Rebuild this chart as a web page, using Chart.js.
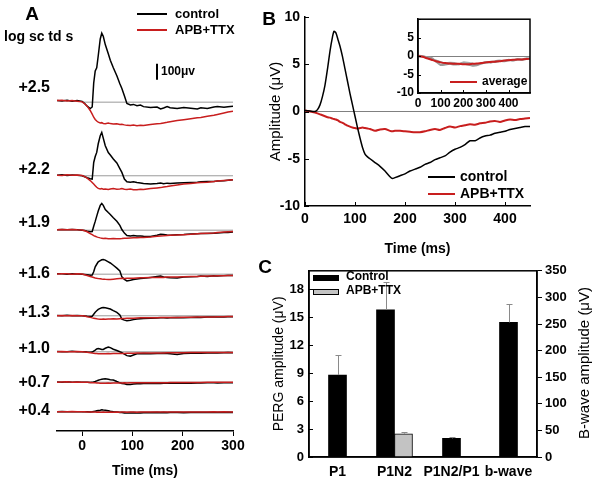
<!DOCTYPE html>
<html>
<head>
<meta charset="utf-8">
<script src="https://cdn.jsdelivr.net/npm/chart.js@4.4.1/dist/chart.umd.min.js"></script>
<style>
  body { margin: 0; background: #fff; }
  #wrap { position: relative; width: 600px; height: 486px; overflow: hidden; background: #fff; }
  canvas { position: absolute; }
</style>
</head>
<body>
<div id="wrap">
  <canvas id="chartA" width="250" height="486" style="left:0;top:0"></canvas>
  <canvas id="chartB" width="350" height="262" style="left:250px;top:0"></canvas>
  <canvas id="chartInset" width="145" height="112" style="left:390px;top:8px"></canvas>
  <canvas id="chartC" width="350" height="228" style="left:250px;top:258px"></canvas>
</div>
<script>
// ---------- Panel A: traces per flash strength (µV, relative to each baseline)
const intensityLabels = ["+2.5", "+2.2", "+1.9", "+1.6", "+1.3", "+1.0", "+0.7", "+0.4"];
const timeA = [-50,-40,-30,-20,-10,0,5,10,16,20,23,26,29,32,36,39,42,46,52,56,62,69,75,79,84,89,96,102,109,116,122,136,149,156,162,169,175,189,202,216,229,236,249,262,269,282,290,300];
const timeTicksA = [0, 100, 200, 300];

const control25 = [10,8,12,6,10, 4,-8,-25,-40,-30, 120,195,215,290,395, 431,412,360,302,262, 215,165,115,85,40, -8,-18,-14,-22,-18, -28,-34,-30,-42,-36, -27,-35,-40,-33,-38, -42,-35,-40,-30,-27, -32,-28,-26];
const apb25 = [10,12,8,10,6, 2,-10,-25,-52,-75, -94,-108,-118,-125,-130, -128,-133,-135,-130,-134, -136,-135,-140,-138,-142, -145,-146,-143,-147,-145, -146,-140,-135,-133,-130, -126,-122,-115,-110,-104, -98,-96,-88,-82,-77, -68,-62,-56];
const control22 = [4,6,2,5,3, 0,-6,-12,-18,-21, 83,120,146,200,250, 271,235,188,145,130, 105,80,45,21,-20, -37,-40,-38,-42,-45, -48,-52,-48,-45,-50, -46,-48,-45,-44,-42, -40,-38,-36,-35,-33, -31,-28,-25];
const apb22 = [4,2,6,3,5, 2,-5,-15,-30,-42, -52,-62,-72,-79,-82, -80,-84,-83,-86,-83, -80,-84,-82,-80,-84, -86,-83,-87,-88,-85, -86,-80,-76,-74,-70, -67,-64,-58,-52,-48, -44,-42,-40,-36,-33, -30,-28,-25];
const control19 = [3,5,2,4,3, 0,-2,-6,-10,-8, 25,55,88,120,155, 167,155,129,110,98, 78,56,30,4,-18, -33,-36,-34,-37,-36, -38,-40,-32,-25,-27, -30,-31,-28,-27,-24, -22,-21,-20,-19,-18, -15,-14,-12];
const apb19 = [2,4,3,5,2, 1,-4,-10,-21,-28, -34,-38,-42,-45,-48, -50,-52,-50,-53,-54, -52,-54,-53,-52,-50, -51,-49,-48,-47,-46, -45,-42,-38,-36,-35, -33,-32,-30,-28,-26, -23,-21,-19,-17,-15, -12,-10,-8];
const control16 = [2,3,0,2,1, 0,-2,-4,-6,-5, 15,46,62,77,85, 90,92,88,77,70, 56,38,20,-17,-32, -42,-38,-33,-30,-27, -25,-20,-15,-12,-18, -20,-22,-24,-18,-16, -14,-12,-14,-10,-11, -9,-8,-8];
const apb16 = [1,3,2,0,2, 1,-3,-8,-14,-18, -21,-24,-26,-27,-28, -30,-31,-32,-33,-33, -31,-29,-27,-26,-27, -25,-26,-25,-24,-23, -22,-21,-20,-19,-20, -18,-18,-17,-16,-15, -14,-13,-12,-11,-10, -9,-8,-8];
const control13 = [2,0,3,1,2, 0,-1,-3,-4,-3, 10,22,31,40,46, 50,52,50,46,42, 32,21,5,-21,-27, -31,-28,-24,-20,-18, -17,-15,-14,-12,-13, -14,-12,-11,-12,-10, -9,-10,-8,-8,-7, -7,-6,-6];
const apb13 = [1,2,0,2,1, 0,-2,-6,-10,-13, -15,-17,-19,-20,-21, -21,-20,-21,-20,-20, -19,-20,-18,-17,-17, -16,-15,-15,-14,-13, -13,-12,-12,-11,-11, -10,-10,-10,-9,-9, -8,-8,-7,-7,-6, -6,-5,-5];
const control10 = [2,0,1,3,0, 1,0,-2,-3,-2, 4,10,18,21,18, 15,15,22,29,26, 16,8,0,-5,-15, -24,-27,-20,-13,-12, -11,-12,-10,-11,-9, -11,-12,-17,-10,-9, -8,-9,-7,-6,-7, -6,-5,-6];
const apb10 = [1,2,0,1,2, 0,-1,-3,-6,-8, -9,-10,-11,-12,-12, -12,-12,-12,-11,-12, -11,-11,-10,-10,-10, -9,-9,-9,-8,-8, -8,-8,-7,-7,-7, -6,-6,-6,-6,-5, -5,-5,-5,-4,-4, -4,-4,-4];
const control07 = [1,0,2,0,1, 0,0,-1,-2,-1, 2,4,8,12,16, 18,20,21,18,16, 14,4,-4,-8,-10, -14,-15,-12,-10,-9, -8,-8,-7,-8,-6, -7,-6,-6,-5,-6, -5,-5,-4,-4,-5, -4,-3,-3];
const apb07 = [0,1,2,0,1, 0,0,-1,-2,-3, -4,-4,-5,-5,-6, -6,-6,-6,-5,-6, -5,-5,-5,-5,-4, -5,-4,-4,-4,-4, -3,-3,-3,-3,-3, -3,-2,-2,-2,-2, -2,-2,-1,-1,-1, -1,-1,-1];
const control04 = [0,2,0,1,0, 1,0,0,-1,0, 2,4,6,8,10, 12,11,10,6,3, 0,-2,-4,-5,-7, -8,-8,-7,-6,-7, -6,-6,-5,-6,-5, -6,-5,-5,-6,-5, -4,-5,-4,-5,-4, -4,-3,-4];
const apb04 = [1,0,1,2,0, 1,0,-1,-1,-2, -2,-2,-3,-2,-3, -3,-2,-3,-3,-2, -3,-2,-3,-2,-2, -3,-2,-2,-3,-2, -2,-2,-1,-2,-1, -2,-1,-1,-2,-1, -1,-1,-1,0,-1, 0,-1,-1];

const controlTraces = [control25, control22, control19, control16, control13, control10, control07, control04];
const apbTraces = [apb25, apb22, apb19, apb16, apb13, apb10, apb07, apb04];

// ---------- Panel B: averaged PERG (µV)
const timeB = [0,10,20,25,30,35,40,45,50,55,58,62,66,70,75,80,85,90,95,100,105,110,115,120,125,130,140,150,160,170,175,180,190,200,210,220,230,240,250,260,270,280,290,300,310,320,330,340,350,360,370,380,390,400,410,420,430,440,450];
const controlB = [0.1,0.05,0,0.2,0.7,1.6,2.8,4.5,6.4,7.9,8.5,8.3,7.6,6.9,5.8,4.5,3.2,1.9,0.7,-0.5,-1.7,-2.8,-3.8,-4.5,-4.8,-5.0,-5.4,-5.8,-6.3,-6.9,-7.1,-7.0,-6.8,-6.6,-6.3,-6.1,-5.9,-5.6,-5.4,-5.1,-4.9,-4.7,-4.3,-4.0,-3.8,-3.5,-3.1,-3.1,-2.8,-2.6,-2.5,-2.3,-2.2,-2.1,-1.9,-1.8,-1.7,-1.6,-1.6];
const apbB = [0.1,0,-0.1,-0.2,-0.3,-0.4,-0.5,-0.6,-0.65,-0.75,-0.8,-0.85,-0.95,-1.1,-1.2,-1.35,-1.5,-1.6,-1.7,-1.75,-1.8,-1.75,-1.7,-1.75,-1.8,-1.85,-2.05,-1.9,-1.85,-2.05,-2.1,-2.05,-2.05,-2.1,-2.15,-2.2,-2.2,-2.1,-1.95,-1.85,-1.95,-1.75,-1.6,-1.7,-1.55,-1.45,-1.35,-1.4,-1.25,-1.2,-1.05,-1.0,-1.1,-0.95,-0.85,-0.9,-0.8,-0.75,-0.7];

// inset: individual APB+TTX recordings and their average
const timeInset = [0,20,40,60,80,100,120,140,160,180,200,220,240,260,280,300,320,340,360,380,400,420,440,460,480,495];
const timeTicksInset = [0, 100, 200, 300, 400];
const averageInset = [0,-0.2,-0.6,-1.0,-1.4,-1.7,-1.9,-2.0,-2.1,-2.1,-2.2,-2.2,-2.1,-2.0,-1.9,-1.7,-1.6,-1.5,-1.4,-1.2,-1.1,-1.0,-0.9,-0.9,-0.8,-0.7];
const recording1 = [0,-0.1,-0.3,-0.5,-1.5,-2.4,-2.3,-2.1,-2.3,-2.2,-2.0,-2.3,-2.6,-2.5,-1.9,-1.8,-1.5,-1.6,-1.3,-1.4,-1.1,-1.2,-0.9,-1.0,-0.7,-0.8];
const recording2 = [0.1,0,-0.4,-0.9,-1.2,-1.6,-2.0,-1.8,-1.9,-2.2,-1.7,-1.8,-2.0,-2.4,-2.1,-1.6,-1.8,-1.4,-1.2,-1.3,-1.0,-1.1,-0.8,-0.9,-0.6,-0.6];

// ---------- Panel C: amplitudes with SEM
const categoriesC = ["P1", "P1N2", "P1N2/P1", "b-wave"];
const controlC = [8.8, 15.8, 2.0, null];
const controlErrC = [2.2, 3.0, 0.2, null];
const apbC = [null, 2.5, null, null];
const apbErrC = [null, 0.2, null, null];
const bwaveC = [null, null, null, 253];
const bwaveErrC = [null, null, null, 35];

// ---------- layout / style
const RED = "#c81e1e";
const FONT = 'Arial, "Liberation Sans", sans-serif';
const traceOffsets = [2055, 1595, 1255, 980, 720, 495, 305, 120]; // stacking of traces in panel A
const labelLift = [15, 6, 8, 1, 3, 3, 0, 1];
Chart.defaults.color = "#000";
Chart.defaults.font.family = FONT;

const bold = (size) => ({ family: FONT, size: size, weight: "bold" });
const plain = (size) => ({ family: FONT, size: size, weight: "normal" });

function makeNotes(items) {
  return {
    id: "notes",
    afterDraw(chart) {
      const ctx = chart.ctx;
      items.forEach(it => {
        ctx.save();
        if (it.line) {
          ctx.strokeStyle = it.color || "#000";
          ctx.lineWidth = it.width || 2;
          ctx.beginPath();
          ctx.moveTo(it.line[0], it.line[1]);
          ctx.lineTo(it.line[2], it.line[3]);
          ctx.stroke();
        }
        if (it.box) {
          ctx.fillStyle = it.fill;
          ctx.fillRect(it.box[0], it.box[1], it.box[2], it.box[3]);
          if (it.stroke) {
            ctx.strokeStyle = it.stroke;
            ctx.lineWidth = 1;
            ctx.strokeRect(it.box[0] + 0.5, it.box[1] + 0.5, it.box[2] - 1, it.box[3] - 1);
          }
        }
        if (it.text) {
          ctx.font = it.font;
          ctx.fillStyle = "#000";
          ctx.textAlign = it.align || "left";
          ctx.textBaseline = "middle";
          ctx.translate(it.x, it.y);
          if (it.rotate) ctx.rotate(it.rotate);
          ctx.fillText(it.text, 0, 0);
        }
        ctx.restore();
      });
    }
  };
}

// short tick marks pointing into the plot
function inwardTicks(ids, len) {
  return {
    id: "inwardTicks",
    afterDraw(chart) {
      const ctx = chart.ctx;
      ctx.save();
      ctx.strokeStyle = "#000";
      ctx.lineWidth = 1;
      ids.forEach(id => {
        const s = chart.scales[id];
        s.ticks.forEach((t, i) => {
          const p = Math.round(s.getPixelForTick(i)) + 0.5;
          ctx.beginPath();
          if (s.position === "left") { ctx.moveTo(s.right, p); ctx.lineTo(s.right + len, p); }
          else if (s.position === "right") { ctx.moveTo(s.left, p); ctx.lineTo(s.left - len, p); }
          else { ctx.moveTo(p, s.top); ctx.lineTo(p, s.top - len); }
          ctx.stroke();
        });
      });
      ctx.restore();
    }
  };
}

const frame = {
  id: "frame",
  afterDraw(chart) {
    const a = chart.chartArea, ctx = chart.ctx;
    ctx.save();
    ctx.strokeStyle = "#000";
    ctx.lineWidth = 1.5;
    ctx.strokeRect(a.left, a.top, a.right - a.left, a.bottom - a.top);
    ctx.restore();
  }
};

// ---------- Panel A chart
const datasetsA = [];
intensityLabels.forEach((lab, i) => {
  const off = traceOffsets[i];
  datasetsA.push({ label: "APB+TTX " + lab, data: timeA.map((t, k) => ({ x: t, y: apbTraces[i][k] + off })), borderColor: RED, borderWidth: 1.5, order: 0 });
  datasetsA.push({ label: "control " + lab, data: timeA.map((t, k) => ({ x: t, y: controlTraces[i][k] + off })), borderColor: "#000", borderWidth: 1.5, order: 1 });
  datasetsA.push({ label: "baseline " + lab, data: [{ x: 0, y: off }, { x: 300, y: off }], borderColor: "#9a9a9a", borderWidth: 1, order: 2 });
});

const traceLabelsA = {
  id: "traceLabels",
  afterDraw(chart) {
    const ctx = chart.ctx, y = chart.scales.y;
    ctx.save();
    ctx.fillStyle = "#000";
    ctx.font = "bold 16px " + FONT;
    ctx.textAlign = "right";
    ctx.textBaseline = "middle";
    intensityLabels.forEach((lab, i) => {
      ctx.fillText(lab, 50, y.getPixelForValue(traceOffsets[i]) - labelLift[i]);
    });
    // 100 µV scale bar
    const top = y.getPixelForValue(2295), bottom = y.getPixelForValue(2195);
    ctx.strokeStyle = "#000";
    ctx.lineWidth = 2;
    ctx.beginPath();
    ctx.moveTo(157, top);
    ctx.lineTo(157, bottom);
    ctx.stroke();
    ctx.font = "bold 12px " + FONT;
    ctx.textAlign = "left";
    ctx.fillText("100μv", 161, (top + bottom) / 2);
    ctx.restore();
  }
};

new Chart(document.getElementById("chartA"), {
  type: "line",
  data: { datasets: datasetsA },
  options: {
    responsive: false,
    animation: false,
    layout: { padding: { left: 57, right: 17, top: 10, bottom: 4 } },
    elements: { point: { radius: 0 }, line: { tension: 0 } },
    plugins: { legend: { display: false }, tooltip: { enabled: false } },
    scales: {
      x: {
        type: "linear", min: -50, max: 300,
        afterBuildTicks: s => { s.ticks = timeTicksA.map(v => ({ value: v })); },
        afterFit: s => { s.height = 51; },
        grid: { display: true, drawOnChartArea: false, tickLength: 5, color: "#000" },
        border: { color: "#000", width: 1.5 },
        ticks: { font: bold(14), padding: 2, maxRotation: 0, autoSkip: false },
        title: { display: true, text: "Time (ms)", font: bold(14), padding: { top: 2, bottom: 2 } }
      },
      y: { display: false, min: 0, max: 2631 }
    }
  },
  plugins: [traceLabelsA, makeNotes([
    { text: "A", x: 32, y: 15, font: "bold 19px " + FONT, align: "center" },
    { text: "log sc td s", x: 4, y: 37, font: "bold 14px " + FONT },
    { line: [137, 14, 167, 14], color: "#000" },
    { text: "control", x: 175, y: 14, font: "bold 13px " + FONT },
    { line: [137, 30, 167, 30], color: RED },
    { text: "APB+TTX", x: 175, y: 30, font: "bold 13px " + FONT }
  ])]
});

// ---------- Panel B chart
new Chart(document.getElementById("chartB"), {
  type: "line",
  data: {
    datasets: [
      { label: "control", data: timeB.map((t, i) => ({ x: t, y: controlB[i] })), borderColor: "#000", borderWidth: 1.5 },
      { label: "APB+TTX", data: timeB.map((t, i) => ({ x: t, y: apbB[i] })), borderColor: RED, borderWidth: 2 }
    ]
  },
  options: {
    responsive: false,
    animation: false,
    layout: { padding: { left: 13, right: 70, top: 17 } },
    elements: { point: { radius: 0 }, line: { tension: 0.2 } },
    plugins: { legend: { display: false }, tooltip: { enabled: false } },
    scales: {
      x: {
        type: "linear", min: 0, max: 450,
        ticks: { stepSize: 100, includeBounds: false, font: bold(14), padding: 5, maxRotation: 0, autoSkip: false },
        grid: { display: false, drawTicks: false },
        border: { color: "#000", width: 1.5 },
        title: { display: true, text: "Time (ms)", font: bold(14), padding: { top: 4, bottom: 4 } },
        afterFit: s => { s.height = 56; }
      },
      y: {
        min: -10, max: 10,
        ticks: { stepSize: 5, font: bold(14), padding: 5 },
        grid: { drawTicks: false, color: c => (c.tick && c.tick.value === 0) ? "#808080" : "rgba(0,0,0,0)" },
        border: { color: "#000", width: 1.5 },
        title: { display: true, text: "Amplitude (μV)", font: plain(15), padding: { top: 4, bottom: 4 } },
        afterFit: s => { s.width = 42; }
      }
    }
  },
  plugins: [inwardTicks(["x", "y"], 4), makeNotes([
    { text: "B", x: 19, y: 20, font: "bold 19px " + FONT, align: "center" },
    { line: [178, 177, 205, 177], color: "#000" },
    { text: "control", x: 210, y: 177, font: "bold 14px " + FONT },
    { line: [178, 194, 205, 194], color: RED },
    { text: "APB+TTX", x: 210, y: 194, font: "bold 14px " + FONT }
  ])]
});

// ---------- Panel B inset
new Chart(document.getElementById("chartInset"), {
  type: "line",
  data: {
    datasets: [
      { label: "average", data: timeInset.map((t, i) => ({ x: t, y: averageInset[i] })), borderColor: RED, borderWidth: 2, order: 0 },
      { label: "recording 1", data: timeInset.map((t, i) => ({ x: t, y: recording1[i] })), borderColor: "#9a9a9a", borderWidth: 2, order: 1 },
      { label: "recording 2", data: timeInset.map((t, i) => ({ x: t, y: recording2[i] })), borderColor: "#a8a8a8", borderWidth: 2, order: 1 }
    ]
  },
  options: {
    responsive: false,
    animation: false,
    layout: { padding: { top: 9, right: 5 } },
    elements: { point: { radius: 0 }, line: { tension: 0.2 } },
    plugins: { legend: { display: false }, tooltip: { enabled: false } },
    scales: {
      x: {
        type: "linear", min: 0, max: 495,
        afterBuildTicks: s => { s.ticks = timeTicksInset.map(v => ({ value: v })); },
        ticks: { font: bold(12), padding: 3, maxRotation: 0, autoSkip: false },
        grid: { display: false, drawTicks: false },
        border: { color: "#000", width: 1.5 },
        afterFit: s => { s.height = 27; }
      },
      y: {
        min: -10, max: 10,
        ticks: { stepSize: 5, font: bold(12), padding: 4, callback: v => (v === 10 ? "" : v) },
        grid: { drawTicks: false, color: c => (c.tick && c.tick.value === 0) ? "#808080" : "rgba(0,0,0,0)" },
        border: { color: "#000", width: 1.5 },
        afterFit: s => { s.width = 28; }
      }
    }
  },
  plugins: [frame, inwardTicks(["x", "y"], 3), makeNotes([
    { line: [60, 74, 87, 74], color: RED },
    { text: "average", x: 92, y: 74, font: "bold 12px " + FONT }
  ])]
});

// ---------- Panel C chart
const errorBars = {
  id: "errorBars",
  afterDatasetsDraw(chart) {
    const ctx = chart.ctx;
    ctx.save();
    ctx.strokeStyle = "#8a8a8a";
    ctx.lineWidth = 1;
    chart.data.datasets.forEach((ds, i) => {
      const meta = chart.getDatasetMeta(i);
      const yScale = chart.scales[meta.yAxisID];
      meta.data.forEach((bar, k) => {
        const err = ds.errors[k];
        if (err === null || ds.data[k] === null) return;
        const yTop = Math.round(yScale.getPixelForValue(ds.data[k] + err)) + 0.5;
        const x = Math.round(bar.x) + 0.5;
        ctx.beginPath();
        ctx.moveTo(x, bar.y);
        ctx.lineTo(x, yTop);
        ctx.moveTo(x - 3, yTop);
        ctx.lineTo(x + 3, yTop);
        ctx.stroke();
      });
    });
    ctx.restore();
  }
};

new Chart(document.getElementById("chartC"), {
  type: "bar",
  data: {
    labels: categoriesC,
    datasets: [
      { label: "Control", data: controlC, errors: controlErrC, backgroundColor: "#000", yAxisID: "y" },
      { label: "APB+TTX", data: apbC, errors: apbErrC, backgroundColor: "#c3c3c3", borderColor: "#000", borderWidth: 1, yAxisID: "y" },
      { label: "Control b-wave", data: bwaveC, errors: bwaveErrC, backgroundColor: "#000", yAxisID: "y2" }
    ]
  },
  options: {
    responsive: false,
    animation: false,
    layout: { padding: { left: 17, right: 2, top: 11 } },
    datasets: { bar: { skipNull: true, barThickness: 18 } },
    plugins: { legend: { display: false }, tooltip: { enabled: false } },
    scales: {
      x: {
        grid: { display: false, drawTicks: false },
        border: { color: "#000", width: 1.5 },
        ticks: { font: bold(14), padding: 7, maxRotation: 0, autoSkip: false },
        afterFit: s => { s.height = 29; }
      },
      y: {
        position: "left", min: 0, max: 20,
        ticks: { stepSize: 3, includeBounds: false, font: bold(13), padding: 5 },
        grid: { display: false, drawTicks: false },
        border: { color: "#000", width: 1.5 },
        title: { display: true, text: "PERG amplitude (μV)", font: plain(14), padding: { top: 4, bottom: 4 } },
        afterFit: s => { s.width = 42; }
      },
      y2: {
        position: "right", min: 0, max: 350,
        ticks: { stepSize: 50, font: bold(13), padding: 3 },
        grid: { display: true, drawOnChartArea: false, drawTicks: true, tickLength: 5, color: "#000" },
        border: { color: "#000", width: 1.5 },
        afterFit: s => { s.width = 61; }
      }
    }
  },
  plugins: [frame, errorBars, inwardTicks(["y"], 4), makeNotes([
    { text: "C", x: 15, y: 10, font: "bold 19px " + FONT, align: "center" },
    { box: [63, 17, 26, 6], fill: "#000" },
    { text: "Control", x: 96, y: 19, font: "bold 12px " + FONT },
    { box: [63, 31, 26, 6], fill: "#c3c3c3", stroke: "#000" },
    { text: "APB+TTX", x: 96, y: 33, font: "bold 12px " + FONT },
    { text: "B-wave amplitude (μV)", x: 335, y: 105, font: "15px " + FONT, align: "center", rotate: -Math.PI / 2 }
  ])]
});
</script>
</body>
</html>
